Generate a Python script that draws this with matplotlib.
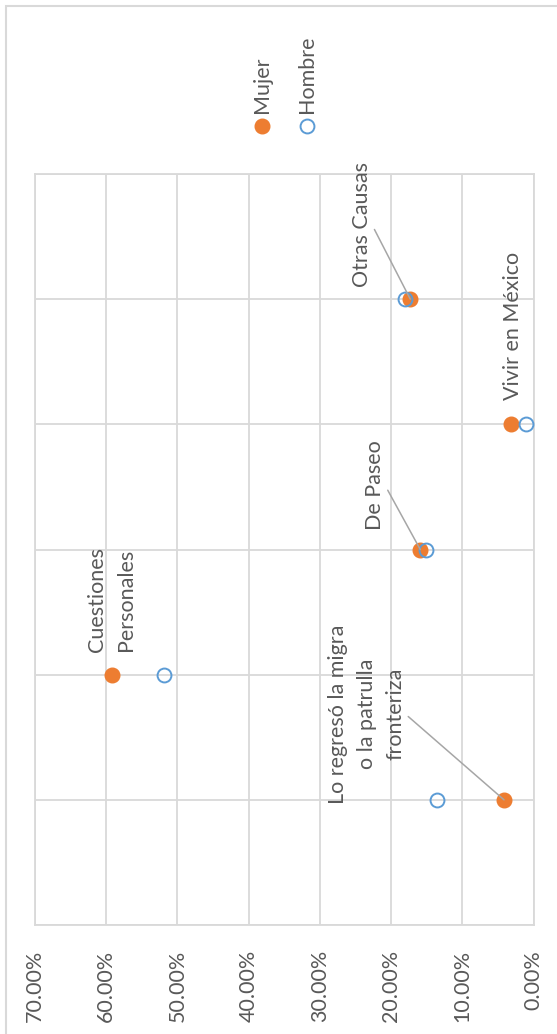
import matplotlib
matplotlib.use('Agg')
import matplotlib.pyplot as plt
from matplotlib.lines import Line2D
from matplotlib.patches import Rectangle
from matplotlib.ticker import PercentFormatter

plt.rcParams['font.family'] = ['Lato', 'DejaVu Sans']

# ── data ──────────────────────────────────────────────────────
categorias = ["Lo regresó la migra\no la patrulla\nfronteriza",
              "Cuestiones\nPersonales",
              "De Paseo",
              "Vivir en México",
              "Otras Causas"]
posicion = [1, 2, 3, 4, 5]
mujer  = [0.0414, 0.592, 0.159, 0.032, 0.173]
hombre = [0.136, 0.519, 0.151, 0.011, 0.180]
valor_ticks = [0.0, 0.1, 0.2, 0.3, 0.4, 0.5, 0.6, 0.7]

# ── style / layout ────────────────────────────────────────────
ORANGE = '#ED7D31'
BLUE   = '#5B9BD5'
TXT    = '#595959'
GRID   = '#D9D9D9'
LEADER = '#A6A6A6'
FS     = 15.5

# where each data label sits (value, category) and if it has a leader
label_xy = [(0.2343, 1.685), (0.5923, 2.60), (0.2226, 3.514),
            (0.0292, 4.785), (0.2413, 5.60)]
leader   = [True, False, True, False, True]

W, H = 557, 1034
fig = plt.figure(figsize=(W / 100, H / 100), dpi=100)
ax = fig.add_axes([35 / W, 1 - 925 / H, (533.5 - 35) / W, (925 - 174) / H])

ax.plot(mujer, posicion, 'o', ms=10.5, color=ORANGE, zorder=3)
ax.plot(hombre, posicion, 'o', ms=10, mfc='none', mec=BLUE, mew=1.4,
        zorder=4)

ax.set_xlim(0.7, 0)
ax.set_ylim(0, 6)
ax.set_xticks(valor_ticks)
ax.xaxis.set_major_formatter(PercentFormatter(1.0, decimals=2))
ax.set_yticks(range(7))
ax.tick_params(axis='x', length=0, pad=18, labelrotation=90,
               labelsize=FS, labelcolor=TXT)
ax.tick_params(axis='y', length=0, labelleft=False)
ax.grid(True, color=GRID, lw=1.3)
ax.set_axisbelow(True)
for s in ax.spines.values():
    s.set_color(GRID)
    s.set_linewidth(1.3)

for i, cat in enumerate(categorias):
    arrow = None
    if leader[i]:
        arrow = dict(arrowstyle='-', color=LEADER, lw=1.1,
                     relpos=(1, 0.5), shrinkA=0, shrinkB=0)
    ax.annotate(cat, xy=(mujer[i], posicion[i]), xytext=label_xy[i],
                textcoords='data', rotation=90, ha='center', va='center',
                multialignment='center', fontsize=FS, color=TXT,
                linespacing=1.55, arrowprops=arrow, zorder=5)

# ── legend (rotated, drawn by hand) ───────────────────────────
for lx, lab, kw in [
    (261.7, 'Mujer',  dict(color=ORANGE, ms=10.5)),
    (307.0, 'Hombre', dict(mfc='none', mec=BLUE, mew=1.4, ms=10)),
]:
    fig.add_artist(Line2D([lx / W], [1 - 126 / H], transform=fig.transFigure,
                          marker='o', ls='none', **kw))
    fig.text(lx / W, 1 - 113 / H, lab, rotation=90, ha='center',
             va='bottom', fontsize=FS, color=TXT)

# chart area frame
fig.add_artist(Rectangle((6 / W, -0.1), 1.2, 1 - 6 / H + 0.1,
                         transform=fig.transFigure, fill=False,
                         ec=GRID, lw=1.5))

fig.savefig('out.png', dpi=100)
